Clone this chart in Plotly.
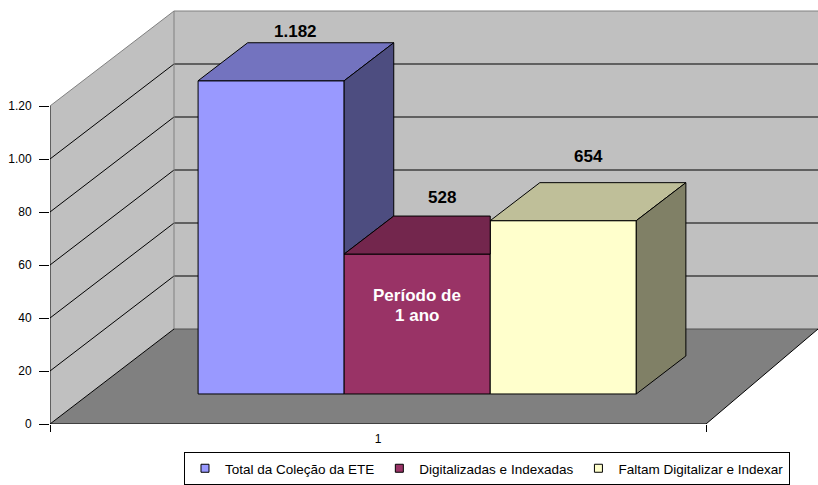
import plotly.graph_objects as go

# ---------------- data ----------------
categories = ["1"]
series_names = ["Total da Coleção da ETE", "Digitalizadas e Indexadas", "Faltam Digitalizar e Indexar"]
series_values = [1182, 528, 654]
value_labels = ["1.182", "528", "654"]
y_tick_values = [0, 200, 400, 600, 800, 1000, 1200]
y_tick_labels = ["0", "20", "40", "60", "80", "1.00", "1.20"]
inner_label_lines = ["Período de", "1 ano"]

# ---------------- styles ----------------
front_colors = ["#9999FF", "#993366", "#FFFFCC"]
top_colors = ["#7373BF", "#73264D", "#BFBF99"]
side_colors = ["#4D4D80", "#4D1A33", "#808066"]
label_offsets = [11, 19, 26]
FONT = "Liberation Sans, Arial, sans-serif"

W, H = 818, 485
ML, MR, MT, MB = 50, 0, 0, 61
PW, PH = W - ML - MR, H - MT - MB
PX_PER_VAL = 0.265
PX_PER_CAT = 656.0
DX_PX, DY_PX = 124.0, 95.0
RIGHT_DX_PX = 112.0
DDX = DX_PX / PX_PER_CAT
DDY = DY_PX / PX_PER_VAL
D_F, D_B = 0.316, 0.716
GROUP_W = 0.668
YMAX = max(y_tick_values)

xr = [0.5, 0.5 + PW / PX_PER_CAT]
yr = [0, PH / PX_PER_VAL]


def proj(x, h, d):
    return (x + d * DDX, h + d * DDY)


def path(points):
    return "M " + " L ".join(f"{p[0]},{p[1]}" for p in points) + " Z"


shapes = []
x0, x1 = 0.5, 1.5
far = x1 + 0.4
floor_br = (x1 + RIGHT_DX_PX / PX_PER_CAT, DDY)
# walls and floor
shapes.append(dict(type="path", path=path([(x0, 0), (x0, YMAX), proj(x0, YMAX, 1), proj(x0, 0, 1)]),
                   fillcolor="#C0C0C0", line=dict(width=0), layer="below"))
shapes.append(dict(type="path", path=path([proj(x0, 0, 1), proj(x0, YMAX, 1), proj(far, YMAX, 1), proj(far, 0, 1)]),
                   fillcolor="#C0C0C0", line=dict(width=0), layer="below"))
shapes.append(dict(type="path", path=path([(x0, 0), (x1, 0), floor_br, (far + DDX, DDY), proj(x0, 0, 1)]),
                   fillcolor="#808080", line=dict(width=0), layer="below"))


def seg(a, b, color, w=1):
    shapes.append(dict(type="line", x0=a[0], y0=a[1], x1=b[0], y1=b[1],
                       line=dict(color=color, width=w), layer="below"))


for v in y_tick_values[1:-1]:
    seg((x0, v), proj(x0, v, 1), "#000000")
    seg(proj(x0, v, 1), proj(far, v, 1), "#000000")
# wall edges
seg((x0, YMAX), proj(x0, YMAX, 1), "#808080")
seg(proj(x0, YMAX, 1), proj(far, YMAX, 1), "#808080")
seg(proj(x0, 0, 1), proj(x0, YMAX, 1), "#808080")
seg(proj(x0, 0, 1), proj(far, 0, 1), "#505050")
# floor edges and axis
seg((x0, 0), proj(x0, 0, 1), "#000000")
seg((x1, 0), floor_br, "#000000")
seg((x0, 0), (x1, 0), "#000000")
seg((x0, 0), (x0, YMAX), "#000000")

fig = go.Figure()

bw = GROUP_W / len(series_values)
lefts = [1 - GROUP_W / 2 + i * bw for i in range(len(series_values))]

# front faces as bars
for i, (name, v) in enumerate(zip(series_names, series_values)):
    cx = lefts[i] + bw / 2
    fx, fy = proj(cx, 0, D_F)
    fig.add_trace(go.Bar(
        x=[fx], y=[v], base=[fy], width=[bw], name=name, showlegend=False,
        marker=dict(color=front_colors[i], line=dict(color="#000000", width=1)),
        hoverinfo="skip",
    ))

# top and side faces
for i, v in enumerate(series_values):
    L, R = lefts[i], lefts[i] + bw
    nxt = series_values[i + 1] if i + 1 < len(series_values) else None
    A, B, C, D = proj(L, v, D_F), proj(R, v, D_F), proj(R, v, D_B), proj(L, v, D_B)
    if nxt is not None and nxt > v:
        top = [A, B, (B[0], C[1]), D]
    else:
        top = [A, B, C, D]
    fig.add_trace(go.Scatter(x=[p[0] for p in top] + [top[0][0]], y=[p[1] for p in top] + [top[0][1]],
                             mode="lines", fill="toself", fillcolor=top_colors[i],
                             line=dict(color="#000000", width=1), showlegend=False, hoverinfo="skip"))
    h0 = nxt if nxt is not None else 0
    if h0 < v:
        side = [proj(R, h0, D_F), proj(R, v, D_F), proj(R, v, D_B), proj(R, h0, D_B)]
        fig.add_trace(go.Scatter(x=[p[0] for p in side] + [side[0][0]], y=[p[1] for p in side] + [side[0][1]],
                                 mode="lines", fill="toself", fillcolor=side_colors[i],
                                 line=dict(color="#000000", width=1), showlegend=False, hoverinfo="skip"))

# legend entries (small square swatches)
for i, name in enumerate(series_names):
    fig.add_trace(go.Scatter(x=[None], y=[None], mode="markers", name=name,
                             marker=dict(symbol="square", size=8, color=front_colors[i],
                                         line=dict(color="#000000", width=1)),
                             hoverinfo="skip"))

annotations = []
for i, v in enumerate(series_values):
    cx = lefts[i] + bw / 2
    lx, ly = proj(cx, v, (D_F + D_B) / 2)
    annotations.append(dict(x=lx, y=v + D_B * DDY, text=f"<b>{value_labels[i]}</b>", showarrow=False,
                            yshift=label_offsets[i], yanchor="middle",
                            font=dict(family=FONT, size=17, color="#000000")))
cx = lefts[1] + bw / 2
fx, fy = proj(cx, series_values[1] / 2, D_F)
line_h = 20
n = len(inner_label_lines)
for j, txt in enumerate(inner_label_lines):
    annotations.append(dict(x=fx, y=fy, text=f"<b>{txt}</b>", showarrow=False,
                            yshift=19 + (n - 1) / 2 * line_h - j * line_h, yanchor="middle",
                            font=dict(family=FONT, size=17, color="#FFFFFF")))

fig.update_layout(
    width=W, height=H,
    margin=dict(l=ML, r=MR, t=MT, b=MB, autoexpand=False),
    paper_bgcolor="#FFFFFF", plot_bgcolor="rgba(0,0,0,0)",
    barmode="overlay",
    shapes=shapes, annotations=annotations,
    font=dict(family=FONT, size=12, color="#000000"),
    xaxis=dict(range=xr, showgrid=False, zeroline=False, showline=False, automargin=False,
               tickvals=[1], ticktext=categories, ticks="", ticklabelstandoff=6,
               minor=dict(tickvals=[0.5, 1.5], ticks="outside", ticklen=7, tickcolor="#000000"),
               tickfont=dict(family=FONT, size=12), fixedrange=True),
    yaxis=dict(range=yr, showgrid=False, zeroline=False, showline=False, automargin=False,
               tickvals=y_tick_values, ticktext=y_tick_labels, ticks="outside", ticklen=10,
               ticklabelstandoff=5,
               tickcolor="#000000", tickfont=dict(family=FONT, size=12), fixedrange=True),
    legend=dict(orientation="h", x=0.569, xanchor="center", y=-0.066, yanchor="top",
                bordercolor="#000000", borderwidth=1, bgcolor="#FFFFFF",
                font=dict(family=FONT, size=13.5, color="#000000"), traceorder="normal"),
    showlegend=True,
)

fig.write_html("out.html", config={"displayModeBar": False},
               post_script="document.body.style.margin='0px';")
